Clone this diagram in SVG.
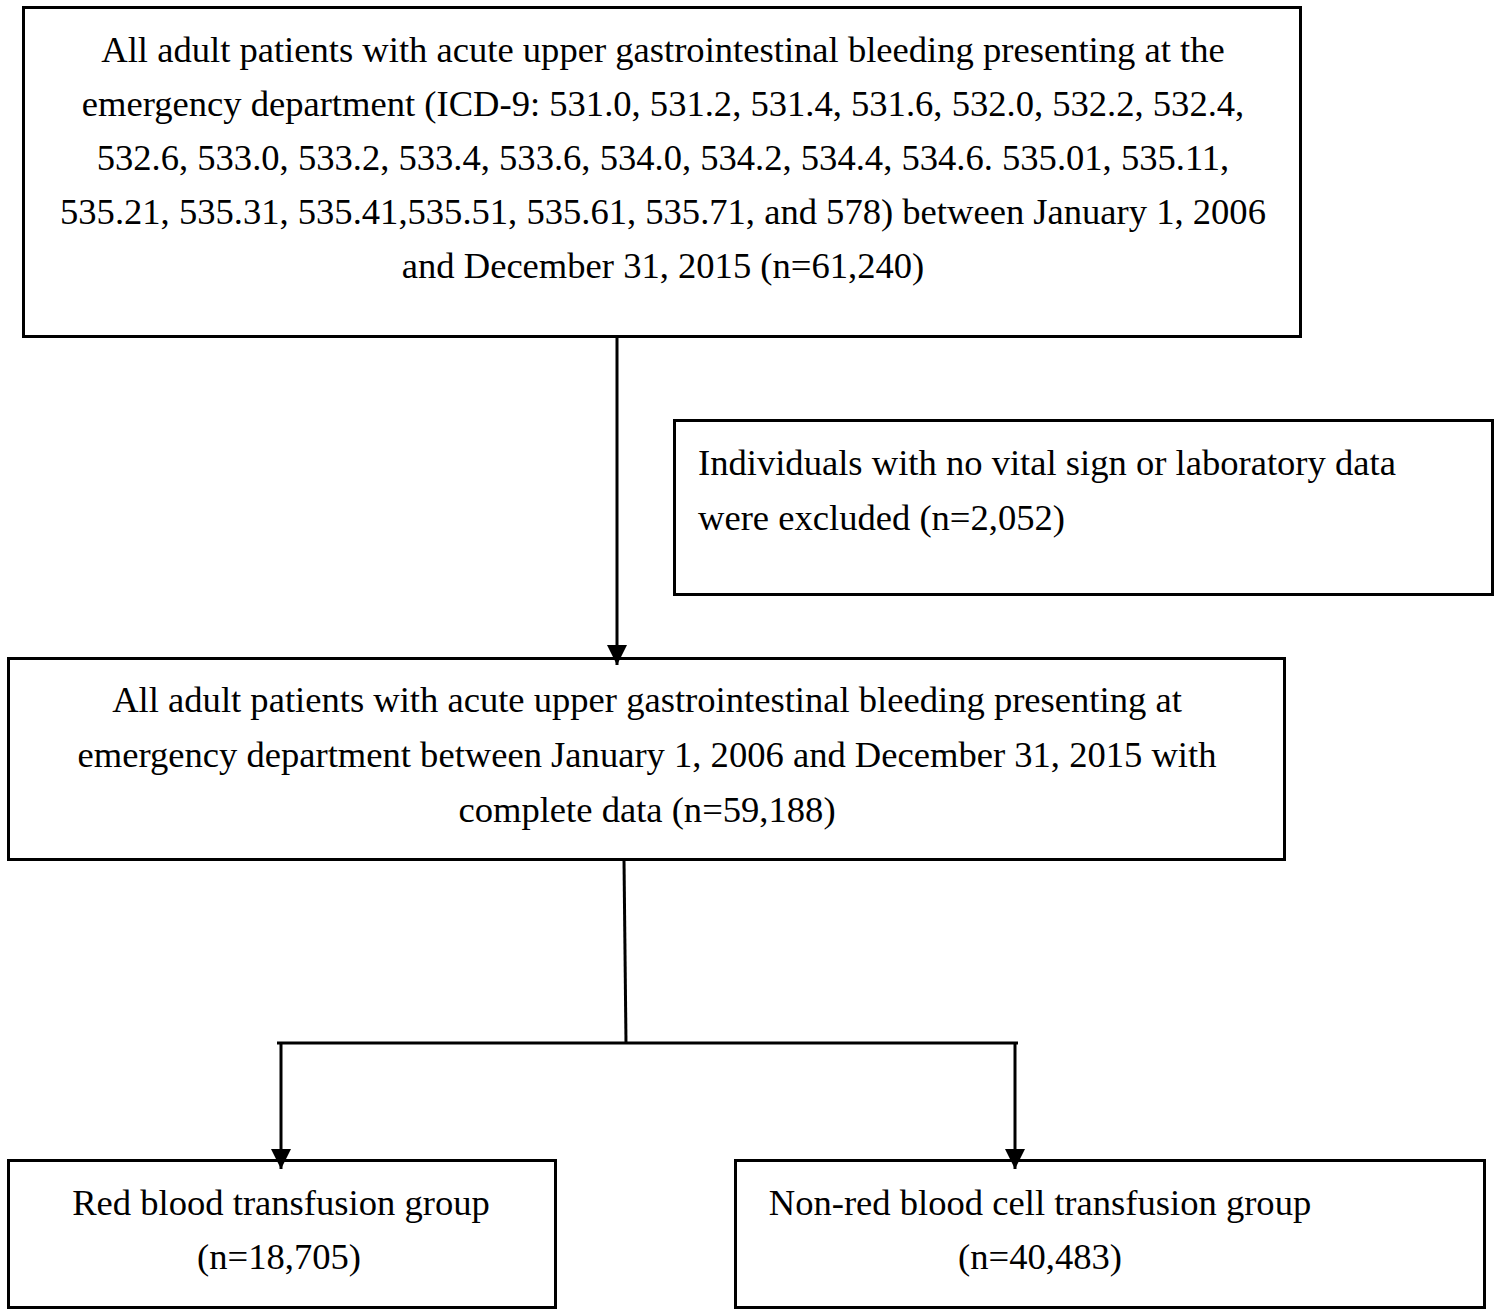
<svg xmlns="http://www.w3.org/2000/svg" width="1500" height="1316" viewBox="0 0 1500 1316">
<style>
.box{fill:#fff;stroke:#000;stroke-width:3}
.t{font-family:"Liberation Serif","Times New Roman",serif;font-size:36.6px;fill:#000}
.c{text-anchor:middle}
.ln{stroke:#000;stroke-width:3;fill:none}
</style>
<defs>
<marker id="ah2" viewBox="0 0 20 22" refX="20" refY="11" markerWidth="20" markerHeight="22" orient="auto" markerUnits="userSpaceOnUse">
<path d="M0,1 L20,11 L0,21 z" fill="#000"/>
</marker>
</defs>
<rect width="1500" height="1316" fill="#fff"/>
<g id="n1">
<rect class="box" x="23.5" y="7.5" width="1277" height="329"/>
<text class="t c" x="663" y="62">All adult patients with acute upper gastrointestinal bleeding presenting at the</text>
<text class="t c" x="663" y="116">emergency department (ICD-9: 531.0, 531.2, 531.4, 531.6, 532.0, 532.2, 532.4,</text>
<text class="t c" x="663" y="170">532.6, 533.0, 533.2, 533.4, 533.6, 534.0, 534.2, 534.4, 534.6. 535.01, 535.11,</text>
<text class="t c" x="663" y="224">535.21, 535.31, 535.41,535.51, 535.61, 535.71, and 578) between January 1, 2006</text>
<text class="t c" x="663" y="278">and December 31, 2015 (n=61,240)</text>
</g>
<g id="n2">
<rect class="box" x="674.5" y="420.5" width="818" height="174"/>
<text class="t" x="698" y="475">Individuals with no vital sign or laboratory data</text>
<text class="t" x="698" y="530">were excluded (n=2,052)</text>
</g>
<g id="n3">
<rect class="box" x="8.5" y="658.5" width="1276" height="201"/>
<text class="t c" x="647" y="712">All adult patients with acute upper gastrointestinal bleeding presenting at</text>
<text class="t c" x="647" y="767">emergency department between January 1, 2006 and December 31, 2015 with</text>
<text class="t c" x="647" y="822">complete data (n=59,188)</text>
</g>
<g id="n4">
<rect class="box" x="8.5" y="1160.5" width="547" height="147"/>
<text class="t c" x="281" y="1215">Red blood transfusion group</text>
<text class="t c" x="279" y="1269">(n=18,705)</text>
</g>
<g id="n5">
<rect class="box" x="735.5" y="1160.5" width="749" height="147"/>
<text class="t c" x="1040" y="1215">Non-red blood cell transfusion group</text>
<text class="t c" x="1040" y="1269">(n=40,483)</text>
</g>
<g id="connectors">
<line class="ln" x1="617" y1="338" x2="617" y2="665" marker-end="url(#ah2)"/>
<polyline class="ln" points="624,860 626,1043"/>
<line class="ln" x1="277" y1="1043" x2="1018" y2="1043"/>
<line class="ln" x1="281" y1="1043" x2="281" y2="1169" marker-end="url(#ah2)"/>
<line class="ln" x1="1015" y1="1043" x2="1015" y2="1169" marker-end="url(#ah2)"/>
</g>
</svg>
